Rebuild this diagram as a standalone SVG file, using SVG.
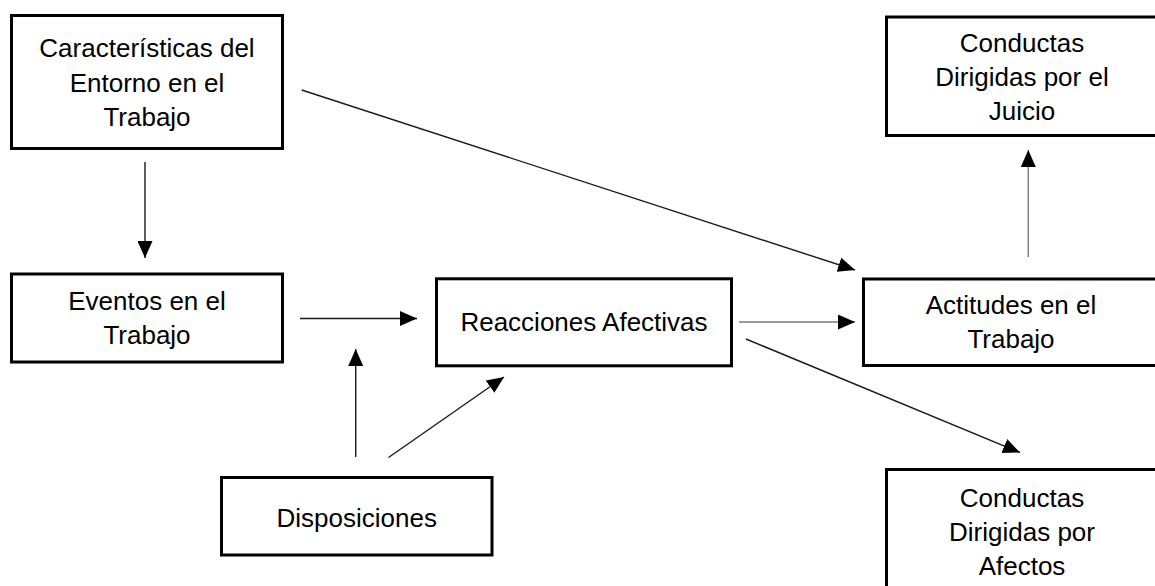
<svg xmlns="http://www.w3.org/2000/svg" width="1155" height="586" viewBox="0 0 1155 586">
<style>
  .box { fill: #ffffff; stroke: #000000; stroke-width: 3; }
  .lbl { font-family: "Liberation Sans", Arial, sans-serif; font-size: 26px; fill: #000000; text-anchor: middle; }
  .conn { stroke: #1a1a1a; stroke-width: 1.4; fill: none; marker-end: url(#arrow); }
  .conn.gray { stroke: #7a7a7a; }
</style>
<defs>
  <marker id="arrow" markerUnits="userSpaceOnUse" markerWidth="17" markerHeight="15" refX="17" refY="7.5" orient="auto">
    <path d="M0,0 L17,7.5 L0,15 z" fill="#000000"/>
  </marker>
</defs>
<rect width="1155" height="586" fill="#ffffff"/>

<g id="connectors">
  <line class="conn" x1="145" y1="162" x2="145" y2="258"/>
  <line class="conn" x1="300" y1="318.5" x2="417" y2="318.5"/>
  <line class="conn" x1="355.7" y1="457" x2="355.7" y2="349"/>
  <line class="conn" x1="388.5" y1="457.5" x2="504" y2="377"/>
  <line class="conn gray" x1="739" y1="322" x2="855" y2="322"/>
  <line class="conn" x1="746" y1="339" x2="1020" y2="452.5"/>
  <line class="conn" x1="301.7" y1="90" x2="855" y2="270"/>
  <line class="conn gray" x1="1028.3" y1="257" x2="1028.3" y2="150"/>
</g>

<g id="caracteristicas">
  <rect class="box" x="11.5" y="15.5" width="271" height="133"/>
  <text class="lbl" x="147" y="57">Características del</text>
  <text class="lbl" x="147" y="91.5">Entorno en el</text>
  <text class="lbl" x="147" y="126">Trabajo</text>
</g>

<g id="eventos">
  <rect class="box" x="11.5" y="274" width="271" height="88"/>
  <text class="lbl" x="147" y="310">Eventos en el</text>
  <text class="lbl" x="147" y="344">Trabajo</text>
</g>

<g id="disposiciones">
  <rect class="box" x="221.5" y="477.5" width="270.5" height="77.5"/>
  <text class="lbl" x="356.7" y="526.5">Disposiciones</text>
</g>

<g id="reacciones">
  <rect class="box" x="436.5" y="278.8" width="295" height="87"/>
  <text class="lbl" x="584" y="330.5">Reacciones Afectivas</text>
</g>

<g id="actitudes">
  <rect class="box" x="863.5" y="279" width="300" height="86.5"/>
  <text class="lbl" x="1011" y="313.5">Actitudes en el</text>
  <text class="lbl" x="1011" y="348">Trabajo</text>
</g>

<g id="conductas-juicio">
  <rect class="box" x="886.5" y="17" width="300" height="118.5"/>
  <text class="lbl" x="1022" y="52">Conductas</text>
  <text class="lbl" x="1022" y="86">Dirigidas por el</text>
  <text class="lbl" x="1022" y="120">Juicio</text>
</g>

<g id="conductas-afectos">
  <rect class="box" x="886.5" y="469.5" width="300" height="130"/>
  <text class="lbl" x="1022" y="507">Conductas</text>
  <text class="lbl" x="1022" y="541">Dirigidas por</text>
  <text class="lbl" x="1022" y="575">Afectos</text>
</g>
</svg>
